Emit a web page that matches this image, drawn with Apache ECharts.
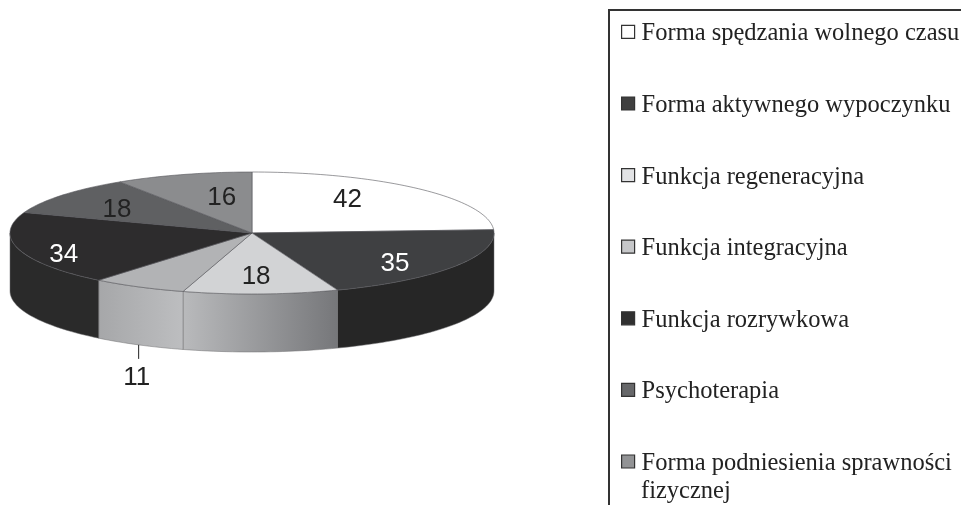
<!DOCTYPE html>
<html>
<head>
<meta charset="utf-8">
<style>html,body{margin:0;padding:0;background:#fff}#main{width:961px;height:505px}</style>
<script src="https://cdn.jsdelivr.net/npm/echarts@6/dist/echarts.min.js"></script>
</head>
<body>
<div id="main"></div>
<script>
const categories = [
  'Forma spędzania wolnego czasu',
  'Forma aktywnego wypoczynku',
  'Funkcja regeneracyjna',
  'Funkcja integracyjna',
  'Funkcja rozrywkowa',
  'Psychoterapia',
  'Forma podniesienia sprawności\nfizycznej'
]
const values = [42, 35, 18, 11, 34, 18, 16]

const topColors = ['#ffffff', '#3f4042', '#d2d3d5', '#b2b3b5', '#2d2c2d', '#5f6062', '#8b8c8e']
const sideColors = [
  '#ffffff',
  '#262626',
  ['#b9babc', '#76777a'],
  ['#a6a7a9', '#bdbec0'],
  '#2a2a2a',
  '#5f6062',
  '#8b8c8e'
]
const legendColors = ['#ffffff', '#404040', '#e2e3e5', '#c6c7c9', '#303030', '#666769', '#929395']
const labelColors = ['#222', '#fff', '#222', '#222', '#fff', '#222', '#222']
// small corrections to where the label would sit at 0.7 of the radius
const labelNudge = [[-21, -2], [1, 8], [-2, 1], null, [-25, 10], [-2, 3], [18, 6]]

// pie geometry
const cx = 252, cy = 233, rx = 242, ry = 61, depth = 58
const total = values.reduce((a, b) => a + b, 0)

const pt = (deg, f, dy) => {
  const a = deg * Math.PI / 180
  return [cx + rx * f * Math.sin(a), cy - ry * f * Math.cos(a) + (dy || 0)]
}
const arcPoints = (from, to, dy) => {
  const list = []
  const n = Math.max(2, Math.ceil((to - from) / 1.5))
  for (let i = 0; i <= n; i++) list.push(pt(from + (to - from) * i / n, 1, dy))
  return list
}

const renderSlice = (idx) => (params, api) => {
  const before = values.slice(0, idx).reduce((a, b) => a + b, 0)
  const start = before / total * 360
  const end = start + api.value(0) / total * 360
  const mid = (start + end) / 2
  const children = []

  // outer wall, only the front half of the disc can be seen
  const from = Math.max(start, 90), to = Math.min(end, 270)
  if (to > from) {
    const side = sideColors[idx]
    const fill = Array.isArray(side)
      ? new echarts.graphic.LinearGradient(0, 0, 1, 0, [{ offset: 0, color: side[0] }, { offset: 1, color: side[1] }])
      : side
    children.push({
      type: 'polygon',
      shape: { points: arcPoints(from, to, 0).concat(arcPoints(from, to, depth).reverse()) },
      style: { fill: fill, stroke: '#6e6f71', lineWidth: 0.5 }
    })
  }

  // top face
  children.push({
    type: 'polygon',
    shape: { points: [[cx, cy]].concat(arcPoints(start, end, 0)) },
    style: { fill: topColors[idx], stroke: '#55565a', lineWidth: 0.6 }
  })

  // value label
  const nudge = labelNudge[idx]
  let labelPos
  if (nudge) {
    const p = pt(mid, 0.7)
    labelPos = [p[0] + nudge[0], p[1] + nudge[1]]
  } else {
    // too thin for a label inside: leader line below the wall
    const p = pt(mid, 1, depth)
    children.push({
      type: 'line',
      shape: { x1: p[0], y1: p[1], x2: p[0], y2: p[1] + 14 },
      style: { stroke: '#222', lineWidth: 1 }
    })
    labelPos = [p[0] - 2, p[1] + 33]
  }
  children.push({
    type: 'text',
    style: {
      text: String(api.value(0)),
      x: labelPos[0],
      y: labelPos[1],
      textAlign: 'center',
      textVerticalAlign: 'middle',
      fontFamily: 'Liberation Sans',
      fontSize: 26,
      fill: labelColors[idx]
    }
  })
  return { type: 'group', children: children }
}

const legendFont = 'Liberation Serif'
const myChart = echarts.init(document.getElementById('main'))
myChart.setOption({
  animation: false,
  backgroundColor: '#fff',
  legend: {
    orient: 'vertical',
    left: 621,
    top: 17.4,
    padding: 0,
    itemWidth: 13,
    itemHeight: 13,
    itemGap: 42.6,
    icon: 'rect',
    selectedMode: false,
    // second line of the long name goes in as graphic text, so the swatch stays on the first line
    formatter: name => '{t|' + name.split('\n')[0] + '}',
    textStyle: {
      rich: {
        t: { fontFamily: legendFont, fontSize: 24.5, lineHeight: 24, padding: [4, 0, 0, 2], color: '#222' }
      }
    },
    data: categories.map((name, i) => ({
      name: name,
      itemStyle: { color: legendColors[i], borderColor: '#333', borderWidth: 1.2 }
    }))
  },
  graphic: [
    {
      type: 'polyline',
      shape: { points: [[609, 506], [609, 10], [962, 10]] },
      style: { fill: 'none', stroke: '#333', lineWidth: 2 }
    },
    {
      type: 'text',
      style: {
        text: categories[6].split('\n')[1],
        x: 641,
        y: 492,
        textVerticalAlign: 'middle',
        fontFamily: legendFont,
        fontSize: 24.5,
        fill: '#222'
      }
    }
  ],
  series: categories.map((name, i) => ({
    type: 'custom',
    name: name,
    coordinateSystem: 'none',
    silent: true,
    renderItem: renderSlice(i),
    data: [values[i]]
  }))
})
</script>
</body>
</html>
